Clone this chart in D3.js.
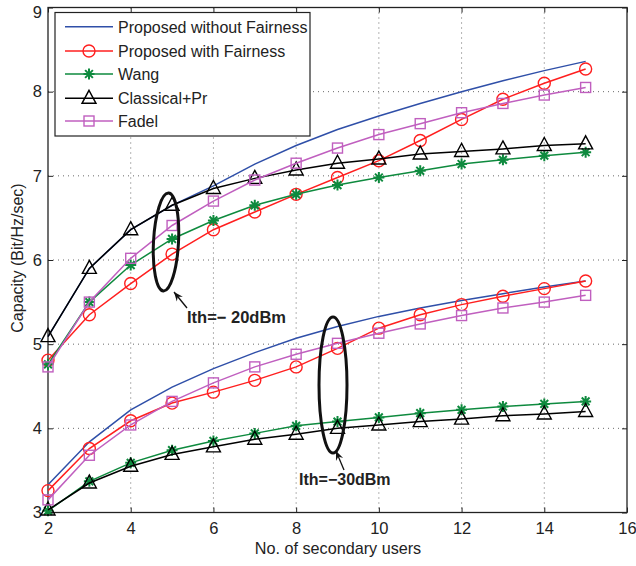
<!DOCTYPE html>
<html><head><meta charset="utf-8">
<script src="https://cdn.jsdelivr.net/npm/d3@7"></script>
<style>
body{margin:0;background:#fff;}
text{font-family:"Liberation Sans",Arial,sans-serif;}
</style></head>
<body><svg id="c" width="636" height="566"></svg>
<script>
const users = [2,3,4,5,6,7,8,9,10,11,12,13,14,15];
const seriesNames = ["Proposed without Fairness","Proposed with Fairness","Wang","Classical+Pr","Fadel"];
// Ith = -20 dBm
const noFair20  = [5.09,5.90,6.36,6.65,6.88,7.14,7.36,7.55,7.71,7.86,8.00,8.13,8.25,8.36];
const fair20    = [4.81,5.35,5.72,6.07,6.36,6.57,6.78,6.98,7.18,7.42,7.67,7.91,8.10,8.27];
const wang20    = [4.76,5.50,5.94,6.25,6.47,6.65,6.78,6.89,6.98,7.06,7.14,7.19,7.24,7.28];
const classic20 = [5.09,5.90,6.36,6.65,6.85,6.97,7.07,7.15,7.20,7.26,7.29,7.32,7.36,7.38];
const fadel20   = [4.73,5.50,6.02,6.41,6.70,6.95,7.15,7.33,7.49,7.62,7.75,7.86,7.96,8.05];
// Ith = -30 dBm
const noFair30  = [3.33,3.84,4.22,4.49,4.71,4.90,5.07,5.21,5.33,5.43,5.52,5.60,5.68,5.75];
const fair30    = [3.26,3.76,4.09,4.30,4.43,4.57,4.73,4.95,5.19,5.35,5.47,5.57,5.66,5.75];
const wang30    = [3.02,3.37,3.59,3.74,3.85,3.94,4.03,4.08,4.13,4.18,4.22,4.26,4.29,4.32];
const classic30 = [3.03,3.35,3.55,3.69,3.78,3.87,3.93,4.00,4.04,4.08,4.11,4.15,4.17,4.20];
const fadel30   = [3.15,3.68,4.04,4.32,4.54,4.73,4.88,5.01,5.13,5.24,5.34,5.43,5.50,5.58];
const xTicks = [2,4,6,8,10,12,14,16];
const yTicks = [3,4,5,6,7,8,9];
const annotations = ["Ith=\u2212 20dBm","Ith=\u221230dBm"];

const colors = ["#2f4fa8","#ff1f1f","#0e8a3e","#000000","#c05fbf"];
const markers = ["none","circle","star","triangle","square"];
const series = [
  {name:seriesNames[0], sets:[noFair20,noFair30]},
  {name:seriesNames[1], sets:[fair20,fair30]},
  {name:seriesNames[2], sets:[wang20,wang30]},
  {name:seriesNames[3], sets:[classic20,classic30]},
  {name:seriesNames[4], sets:[fadel20,fadel30]}
];

const svg = d3.select("#c");
const L=48, R=627, T=7.5, B=512.5;
const x = d3.scaleLinear().domain([2,16]).range([L,R]);
const y = d3.scaleLinear().domain([3,9]).range([B,T]);

// grid
const g = svg.append("g");
g.selectAll(".gx").data(xTicks.slice(1,-1)).enter().append("line")
 .attr("x1",d=>x(d)).attr("x2",d=>x(d)).attr("y1",T).attr("y2",B)
 .attr("stroke","#444").attr("stroke-width",0.8).attr("stroke-dasharray","1,4");
g.selectAll(".gy").data(yTicks.slice(1,-1)).enter().append("line")
 .attr("y1",d=>y(d)).attr("y2",d=>y(d)).attr("x1",L).attr("x2",R)
 .attr("stroke","#444").attr("stroke-width",0.8).attr("stroke-dasharray","1,4");

// axes
const axB = d3.axisBottom(x).tickValues(xTicks).tickSize(-5).tickPadding(10).tickFormat(d3.format("d"));
const axL = d3.axisLeft(y).tickValues(yTicks).tickSize(-5).tickPadding(6).tickFormat(d3.format("d"));
const axT = d3.axisTop(x).tickValues(xTicks).tickSize(-5).tickFormat("");
const axR = d3.axisRight(y).tickValues(yTicks).tickSize(-5).tickFormat("");
function style(sel){
  sel.select(".domain").remove();
  sel.selectAll("line").attr("stroke","#222").attr("stroke-width",1);
  sel.selectAll("text").attr("font-size",16.5).attr("fill","#222").attr("font-family","Liberation Sans, Arial, sans-serif");
}
svg.append("g").attr("transform",`translate(0,${B})`).call(axB).call(style);
const gl = svg.append("g").attr("transform",`translate(${L},0)`).call(axL).call(style);
// keep the top label inside the picture
gl.selectAll(".tick").filter(d=>d===9).select("text").attr("dy","0.62em");
svg.append("g").attr("transform",`translate(0,${T})`).call(axT).call(style);
svg.append("g").attr("transform",`translate(${R},0)`).call(axR).call(style);
svg.append("rect").attr("x",L).attr("y",T).attr("width",R-L).attr("height",B-T)
 .attr("fill","none").attr("stroke","#222").attr("stroke-width",1.3);

// marker drawing
function drawMarker(sel, type, color){
  if(type==="circle"){
    sel.append("circle").attr("r",6).attr("fill","none").attr("stroke",color).attr("stroke-width",1.4);
  } else if(type==="square"){
    sel.append("rect").attr("x",-5).attr("y",-5).attr("width",10).attr("height",10)
      .attr("fill","none").attr("stroke",color).attr("stroke-width",1.4);
  } else if(type==="triangle"){
    sel.append("path").attr("d","M0,-8 L7,5 L-7,5 Z").attr("fill","none").attr("stroke",color).attr("stroke-width",1.4);
  } else if(type==="star"){
    const r=5.5;
    let d="";
    [0,45,90,135].forEach(a=>{const rad=a*Math.PI/180;const dx=r*Math.cos(rad),dy=r*Math.sin(rad);
      d+=`M${-dx},${-dy}L${dx},${dy}`;});
    sel.append("path").attr("d",d).attr("stroke",color).attr("stroke-width",2);
  }
}

const line = d3.line().x((d,i)=>x(users[i])).y(d=>y(d));
const plot = svg.append("g");
series.forEach((s,si)=>{
  s.sets.forEach(vals=>{
    plot.append("path").datum(vals).attr("d",line).attr("fill","none")
      .attr("stroke",colors[si]).attr("stroke-width",1.5);
    if(markers[si]!=="none"){
      vals.forEach((v,i)=>{
        const mg = plot.append("g").attr("transform",`translate(${x(users[i])},${y(v)})`);
        drawMarker(mg, markers[si], colors[si]);
      });
    }
  });
});

// annotations
svg.append("ellipse").attr("cx",166).attr("cy",242).attr("rx",12.5).attr("ry",49)
 .attr("transform","rotate(3,166,242)").attr("fill","none").attr("stroke","#111").attr("stroke-width",3);
svg.append("ellipse").attr("cx",333).attr("cy",385).attr("rx",14).attr("ry",68)
 .attr("fill","none").attr("stroke","#111").attr("stroke-width",3);
function arrow(x1,y1,x2,y2){
  svg.append("line").attr("x1",x1).attr("y1",y1).attr("x2",x2).attr("y2",y2).attr("stroke","#111").attr("stroke-width",1.3);
  const ang=Math.atan2(y2-y1,x2-x1), len=10, w=0.4;
  const p1=[x2-len*Math.cos(ang-w),y2-len*Math.sin(ang-w)], p2=[x2-len*Math.cos(ang+w),y2-len*Math.sin(ang+w)];
  svg.append("path").attr("d",`M${x2},${y2}L${p1}L${x2-6*Math.cos(ang)},${y2-6*Math.sin(ang)}L${p2}Z`).attr("fill","#111");
}
arrow(187,308,174,292);
arrow(344,470,336,451);
svg.append("text").attr("x",187).attr("y",323).attr("font-size",16.5).attr("font-weight","bold").attr("fill","#222").text(annotations[0]);
svg.append("text").attr("x",299).attr("y",485).attr("font-size",16).attr("font-weight","bold").attr("fill","#222").text(annotations[1]);

// axis labels
svg.append("text").attr("x",338).attr("y",554).attr("text-anchor","middle").attr("font-size",16.2).attr("fill","#222").text("No. of secondary users");
svg.append("text").attr("transform","translate(23,258) rotate(-90)").attr("text-anchor","middle").attr("font-size",16).attr("fill","#222").text("Capacity (Bit/Hz/sec)");

// legend
const lg = svg.append("g");
lg.append("rect").attr("x",55).attr("y",12.5).attr("width",255).attr("height",123.5).attr("fill","#fff").attr("stroke","#222").attr("stroke-width",1.2);
const ly = [26.7,51,74,98.3,121];
series.forEach((s,si)=>{
  lg.append("line").attr("x1",65).attr("x2",113).attr("y1",ly[si]).attr("y2",ly[si]).attr("stroke",colors[si]).attr("stroke-width",1.5);
  if(markers[si]!=="none"){
    const mg = lg.append("g").attr("transform",`translate(89,${ly[si]})`);
    drawMarker(mg, markers[si], colors[si]);
  }
  lg.append("text").attr("x",118).attr("y",ly[si]+6).attr("font-size",16).attr("fill","#222").text(s.name);
});
</script></body></html>
